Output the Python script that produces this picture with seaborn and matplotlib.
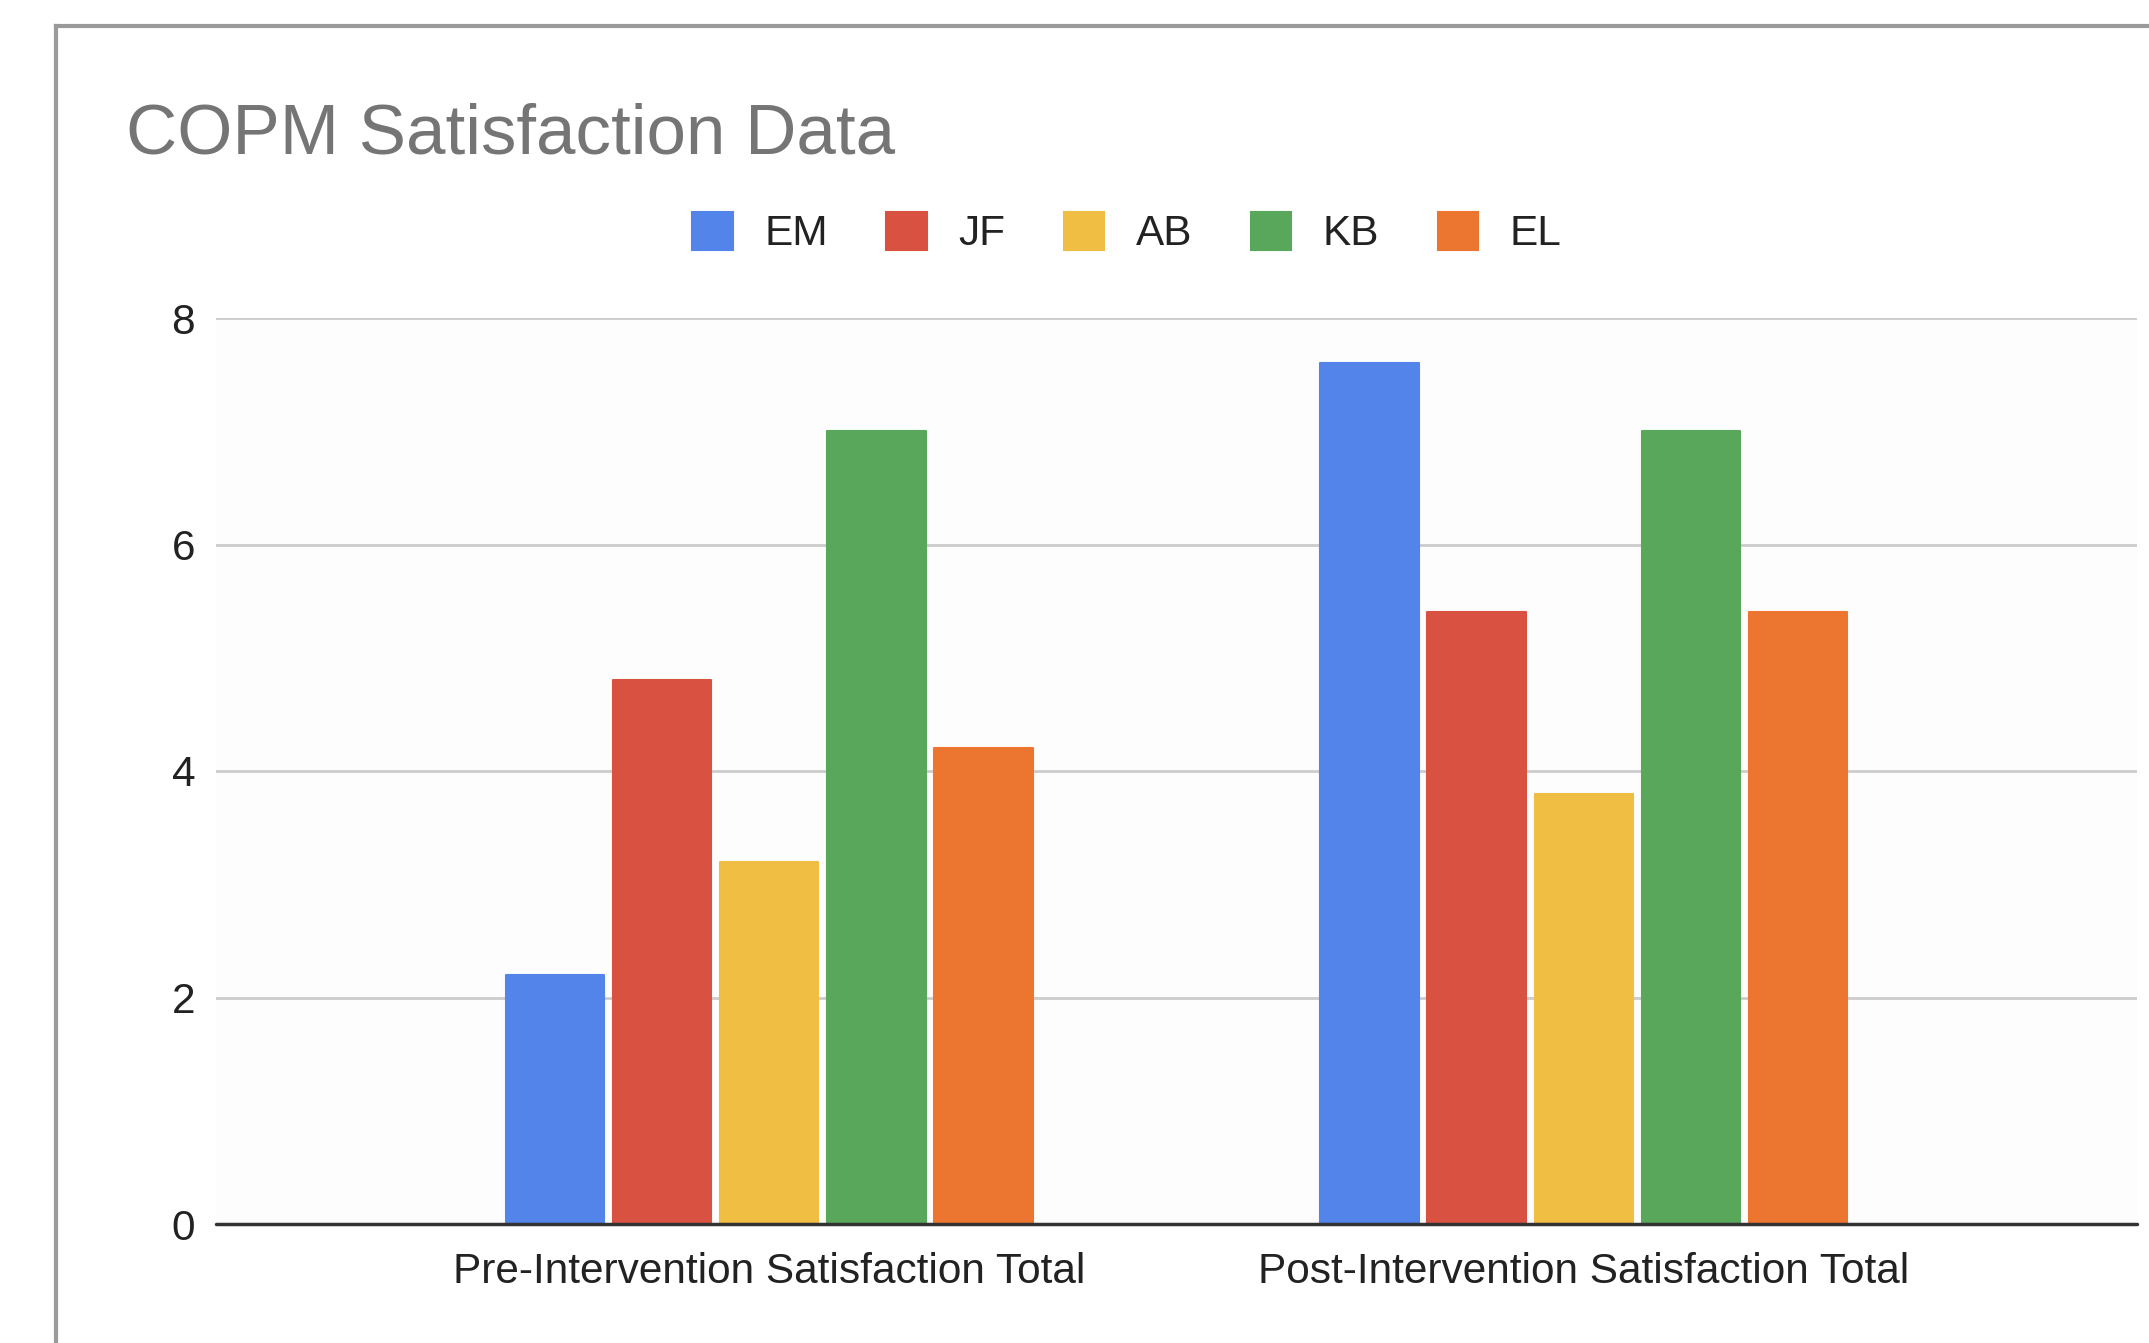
import matplotlib
matplotlib.use("Agg")
import matplotlib.pyplot as plt
from matplotlib.lines import Line2D
from matplotlib.patches import Patch
import seaborn as sns
import pandas as pd

# COPM satisfaction scores per client, before and after the intervention
periods = ["Pre-Intervention Satisfaction Total", "Post-Intervention Satisfaction Total"]
clients = ["EM", "JF", "AB", "KB", "EL"]
pre_scores = [2.2, 4.8, 3.2, 7.0, 4.2]
post_scores = [7.6, 5.4, 3.8, 7.0, 5.4]
colors = ["#5284EA", "#D95140", "#EFBE43", "#58A75B", "#EC7530"]
y_ticks = [0, 2, 4, 6, 8]

df = pd.DataFrame({
    "period": [periods[0]] * len(clients) + [periods[1]] * len(clients),
    "client": clients + clients,
    "score": pre_scores + post_scores,
})

sns.set_theme(style="white")
plt.rcParams["font.family"] = ["Liberation Sans", "DejaVu Sans"]

W, H = 2149, 1343
fig = plt.figure(figsize=(W / 100, H / 100), dpi=100)
fig.patch.set_facecolor("white")

ax = fig.add_axes([216 / W, 1 - 1224 / H, (2137 - 216) / W, (1224 - 318) / H])
ax.set_facecolor("#FDFDFD")

sns.barplot(
    data=df, x="period", y="score", hue="client",
    order=periods, hue_order=clients, palette=colors,
    width=0.6575, gap=0.08, saturation=1, ax=ax, legend=True,
)
ax.get_legend().remove()

# soften the bar corners slightly
for bar in ax.patches:
    bar.set_edgecolor(bar.get_facecolor())
    bar.set_linewidth(1.5)
    bar.set_joinstyle("round")

ax.set_xlim(-0.679, 1.679)
ax.set_ylim(0, 8)
ax.set_yticks(y_ticks)
ax.set_yticklabels([str(t) for t in y_ticks])
ax.set_xlabel("")
ax.set_ylabel("")
for s in ax.spines.values():
    s.set_visible(False)
ax.tick_params(axis="both", length=0, labelsize=30.5, labelcolor="#222222")
ax.tick_params(axis="y", pad=15)
ax.tick_params(axis="x", pad=20)
ax.yaxis.grid(True, color="#CCCCCC", linewidth=2)
ax.set_axisbelow(True)
ax.axhline(0, color="#333333", linewidth=2.5, zorder=5, clip_on=False)

# Outer chart frame (top and left edges)
fig.add_artist(Line2D([56 / W, 56 / W], [0, 1 - 26 / H], transform=fig.transFigure,
                      color="#9A9A9A", linewidth=3, solid_capstyle="projecting"))
fig.add_artist(Line2D([56 / W, 1], [1 - 26 / H, 1 - 26 / H], transform=fig.transFigure,
                      color="#9A9A9A", linewidth=3, solid_capstyle="projecting"))

fig.text(126 / W, 1 - 154 / H, "COPM Satisfaction Data", fontsize=51,
         color="#757575", ha="left", va="baseline")

legend_handles = [Patch(facecolor=c, edgecolor=c, linewidth=1.5, joinstyle="round")
                  for c in colors]
fig.legend(
    legend_handles, clients, loc="center", ncol=len(clients),
    bbox_to_anchor=(1127 / W, 1 - 233 / H), frameon=False,
    fontsize=30.5, labelcolor="#222222",
    handlelength=0.95, handleheight=1.0, handletextpad=0.75,
    columnspacing=1.38, borderaxespad=0, borderpad=0,
)

fig.savefig("out.png", dpi=100, facecolor="white")
